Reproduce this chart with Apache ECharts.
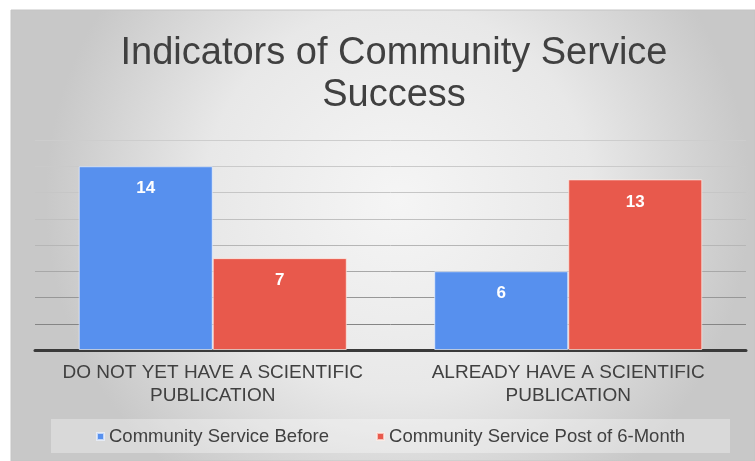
<!DOCTYPE html>
<html>
<head>
<meta charset="utf-8">
<script src="https://cdn.jsdelivr.net/npm/echarts@6/dist/echarts.min.js"></script>
<style>
  html, body { margin: 0; padding: 0; background: #ffffff; }
  #chart { width: 755px; height: 461px; }
</style>
</head>
<body>
<div id="chart"></div>
<script>
// Categories (publication status) and the two survey rounds
const categories = [
  'DO NOT YET HAVE A SCIENTIFIC\nPUBLICATION',
  'ALREADY HAVE A SCIENTIFIC\nPUBLICATION'
];
const seriesNames = ['Community Service Before', 'Community Service Post of 6-Month'];
const beforeValues = [14, 6];
const afterValues = [7, 13];
const titleLines = ['Indicators of Community Service', 'Success'];

const FONT = '"Liberation Sans", Arial, Helvetica, sans-serif';
const BLUE = '#5790ee';
const RED = '#e8594c';

const chart = echarts.init(document.getElementById('chart'), null, { renderer: 'canvas' });

const barLabel = {
  show: true,
  position: 'insideTop',
  distance: 14,
  color: '#ffffff',
  fontFamily: FONT,
  fontWeight: 'bold',
  fontSize: 17
};

chart.setOption({
  animation: false,
  backgroundColor: '#ffffff',
  graphic: [
    {
      // slide-style backdrop with a soft radial shading
      type: 'rect',
      z: -10,
      shape: { x: 11, y: 10, width: 744, height: 451 },
      style: {
        fill: {
          type: 'radial', x: 0.52, y: 0.42, r: 0.78,
          colorStops: [
            { offset: 0, color: '#f5f5f5' },
            { offset: 0.55, color: '#e8e8e8' },
            { offset: 1, color: '#c8c8c8' }
          ]
        },
        stroke: '#c4c4c4',
        lineWidth: 1
      }
    },
    {
      // legend panel
      type: 'rect',
      z: -5,
      shape: { x: 51, y: 419, width: 679, height: 34 },
      style: { fill: 'rgba(255,255,255,0.32)' }
    }
  ],
  title: {
    text: titleLines.join('\n'),
    left: 389,
    top: 28,
    textAlign: 'center',
    textStyle: {
      fontFamily: FONT,
      fontSize: 38,
      fontWeight: 'normal',
      lineHeight: 42,
      color: '#404040'
    }
  },
  legend: {
    data: seriesNames.map(n => ({ name: n, icon: 'rect' })),
    left: 96,
    top: 427,
    padding: 0,
    itemWidth: 7,
    itemHeight: 7,
    itemGap: 47,
    textStyle: { fontFamily: FONT, fontSize: 18.5, color: '#404040' }
  },
  grid: { left: 35, right: 9, top: 140, bottom: 111 },
  xAxis: {
    type: 'category',
    data: categories,
    axisTick: { show: false },
    axisLine: { lineStyle: { color: '#3a3a3a', width: 3 } },
    axisLabel: {
      interval: 0,
      margin: 11,
      fontFamily: FONT,
      fontSize: 19,
      lineHeight: 23,
      color: '#404040'
    }
  },
  yAxis: {
    type: 'value',
    min: 0,
    max: 16,
    interval: 2,
    axisLabel: { show: false },
    axisLine: { show: false },
    axisTick: { show: false },
    splitLine: {
      lineStyle: {
        width: 1,
        color: ['#3a3a3a', '#858585', '#979797', '#a8a8a8', '#b6b6b6', '#c0c0c0', '#c6c6c6', '#cacaca', '#cdcdcd']
      }
    }
  },
  series: [
    {
      name: seriesNames[0],
      type: 'bar',
      data: beforeValues,
      barWidth: '37.7%',
      barGap: '0%',
      itemStyle: { color: BLUE, borderColor: 'rgba(235,242,255,0.7)', borderWidth: 1 },
      label: barLabel
    },
    {
      name: seriesNames[1],
      type: 'bar',
      data: afterValues,
      barWidth: '37.7%',
      itemStyle: { color: RED, borderColor: 'rgba(255,236,230,0.7)', borderWidth: 1 },
      label: barLabel
    }
  ]
});
</script>
</body>
</html>
